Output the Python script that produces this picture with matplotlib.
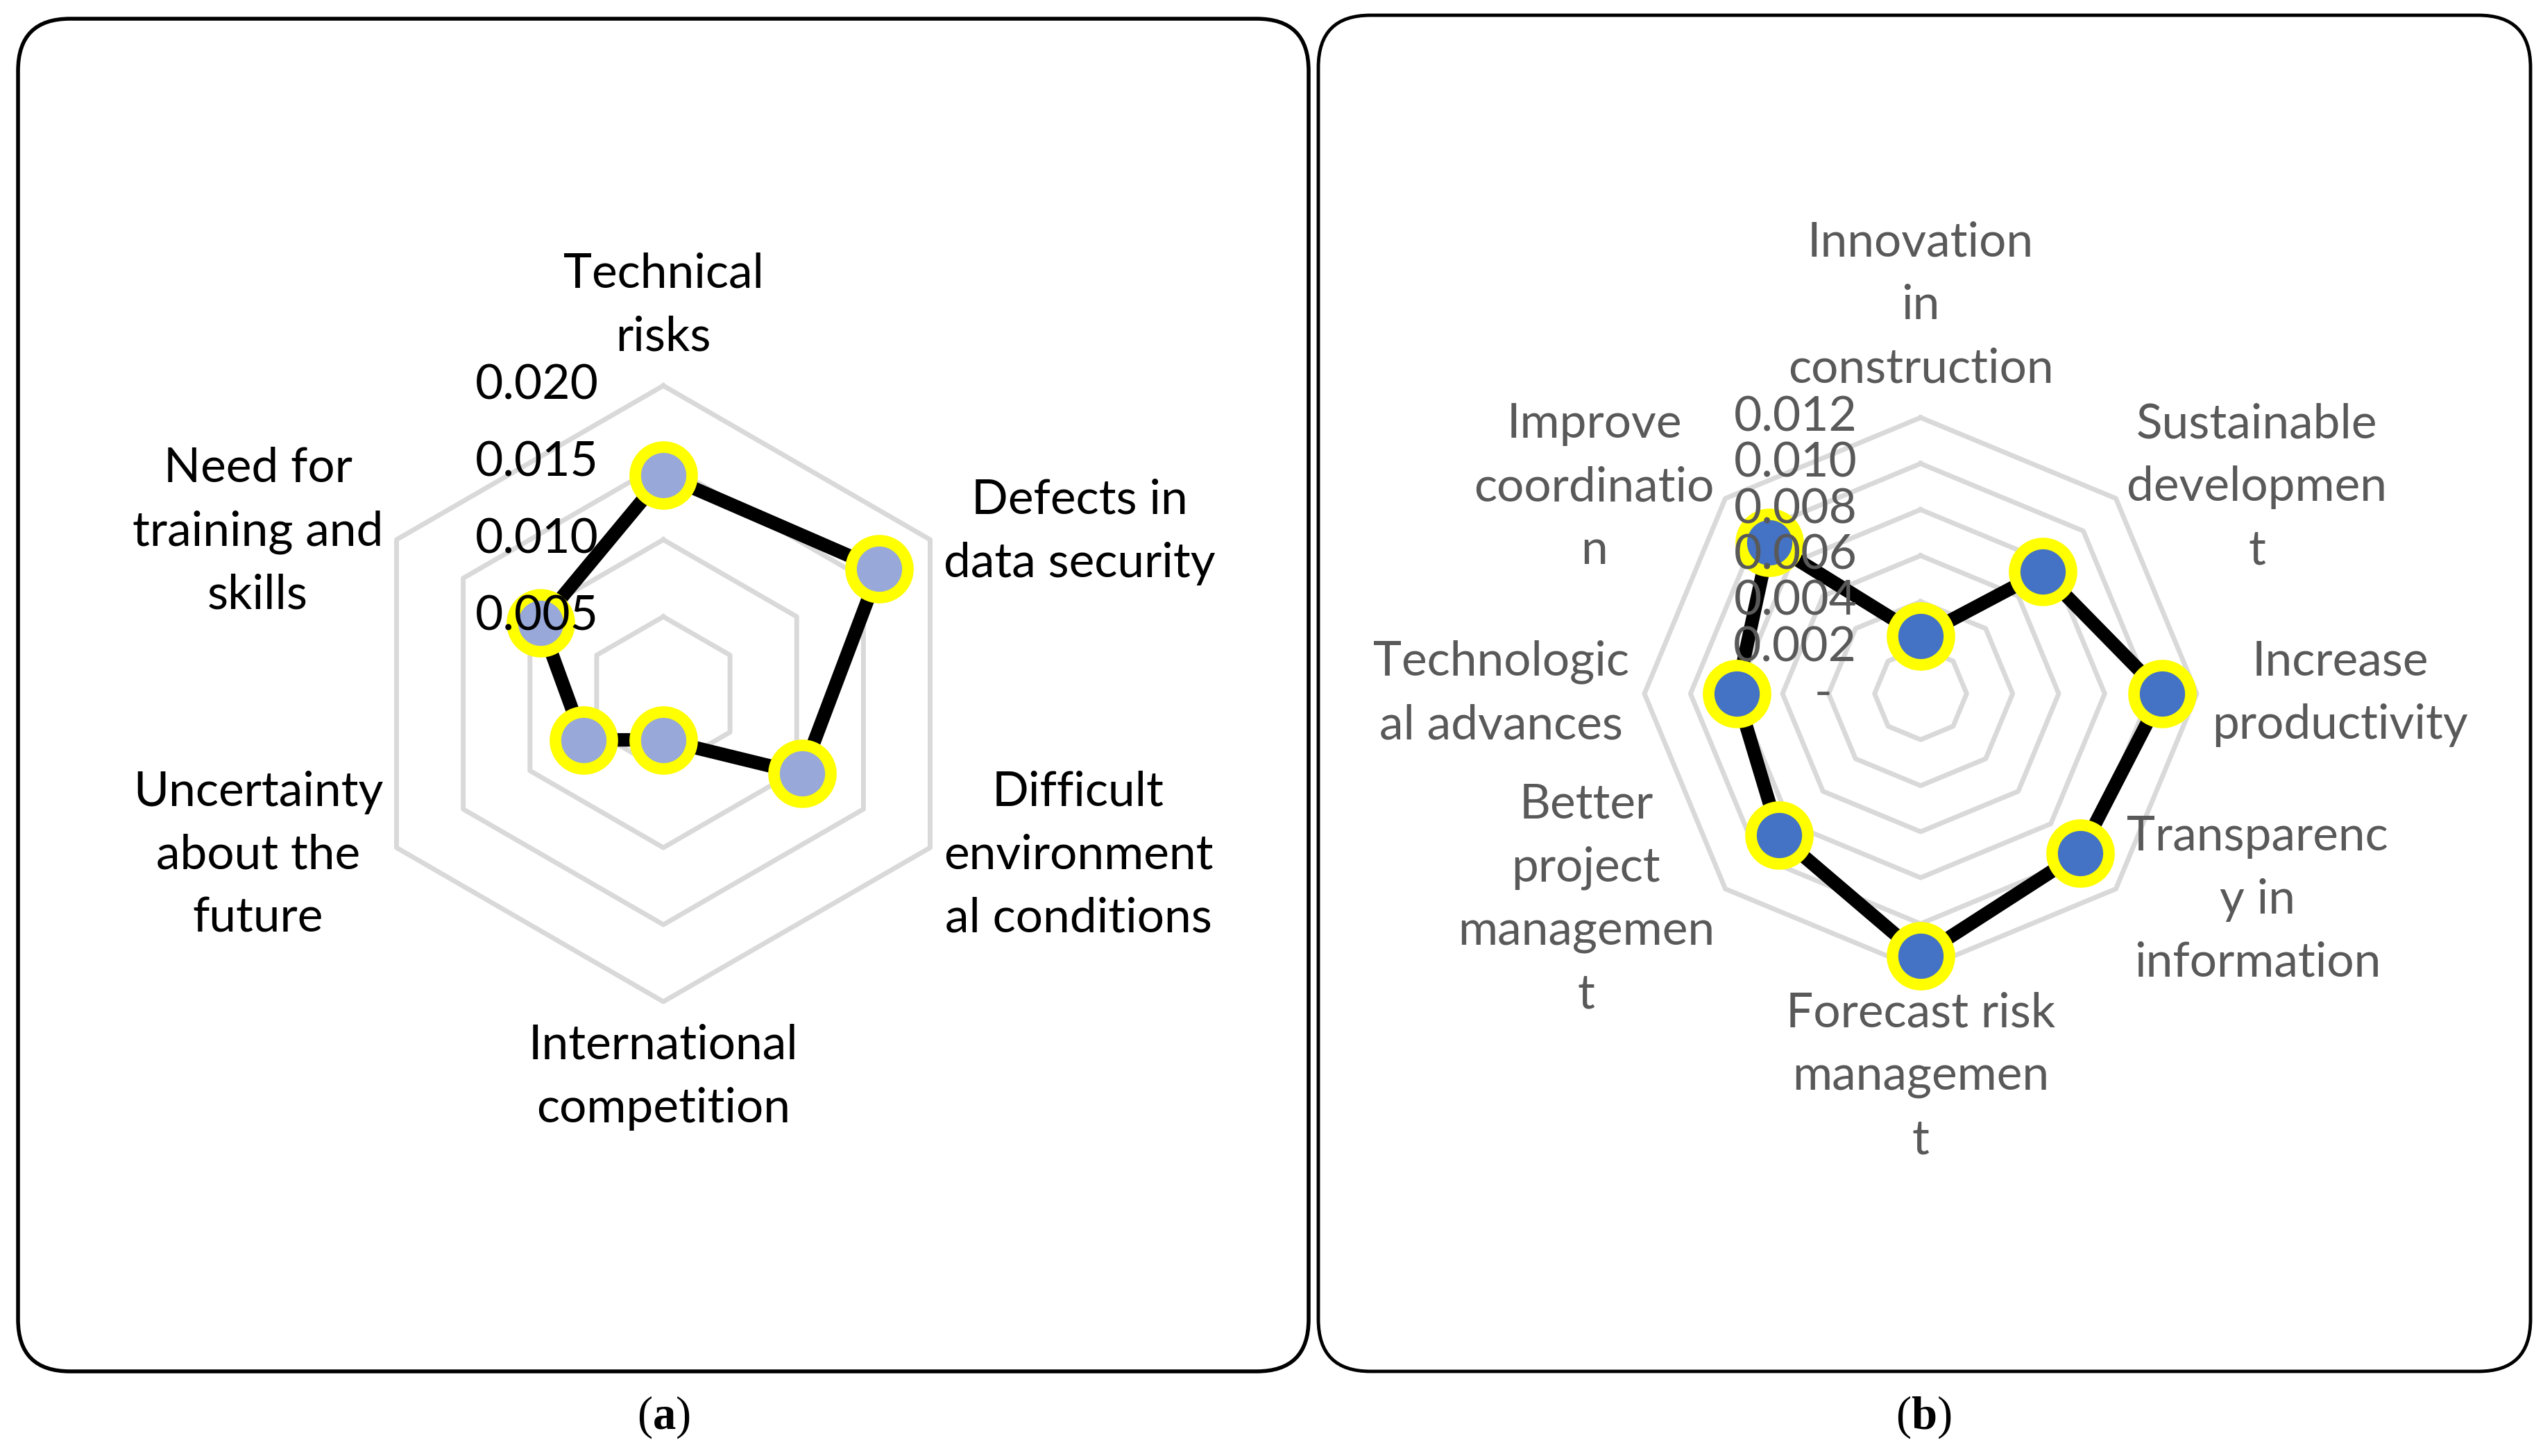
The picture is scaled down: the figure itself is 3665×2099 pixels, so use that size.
import numpy as np
import matplotlib
matplotlib.use("Agg")
import matplotlib.pyplot as plt
from matplotlib.patches import FancyBboxPatch

plt.rcParams['font.family'] = ['Lato', 'DejaVu Sans']
plt.rcParams['mathtext.fontset'] = 'custom'
plt.rcParams['mathtext.rm'] = 'Liberation Serif'
plt.rcParams['mathtext.bf'] = 'Liberation Serif:bold'

# (a) challenges
cats_a = ["Technical\nrisks", "Defects in\ndata security", "Difficult\nenvironment\nal conditions",
          "International\ncompetition", "Uncertainty\nabout the\nfuture", "Need for\ntraining and\nskills"]
vals_a = [0.0142, 0.0162, 0.0104, 0.0030, 0.0060, 0.0092]
ticks_a = [0.005, 0.010, 0.015, 0.020]
ticklabels_a = ["0.005", "0.010", "0.015", "0.020"]

# (b) benefits
cats_b = ["Innovation\nin\nconstruction", "Sustainable\ndevelopmen\nt", "Increase\nproductivity",
          "Transparenc\ny in\ninformation", "Forecast risk\nmanagemen\nt", "Better\nproject\nmanagemen\nt",
          "Technologic\nal advances", "Improve\ncoordinatio\nn"]
vals_b = [0.0025, 0.0075, 0.0105, 0.0098, 0.0114, 0.0087, 0.0080, 0.0093]
ticks_b = [0.0, 0.002, 0.004, 0.006, 0.008, 0.010, 0.012]
ticklabels_b = ["-  ", "0.002", "0.004", "0.006", "0.008", "0.010", "0.012"]

W, H = 3666, 2099
fig = plt.figure(figsize=(W / 100, H / 100), dpi=100)

# background frames
bg = fig.add_axes([0, 0, 1, 1], zorder=-5)
bg.set_xlim(0, W)
bg.set_ylim(H, 0)
bg.axis('off')
bg.add_patch(FancyBboxPatch((26, 27), 1860, 1950, boxstyle="round,pad=0,rounding_size=75",
                            fc='white', ec='black', lw=4))
bg.add_patch(FancyBboxPatch((1900, 22), 1747, 1955, boxstyle="round,pad=0,rounding_size=75",
                            fc='white', ec='black', lw=3.5))
bg.text(956, 2043, r"($\mathbf{a}$)", ha='center', va='center', fontsize=48, family='Liberation Serif')
bg.text(2772, 2043, r"($\mathbf{b}$)", ha='center', va='center', fontsize=48, family='Liberation Serif')


def radar(cx, cy, R, cats, vals, ticks, ticklabels, rmax, face, txtcol, tick_off):
    ax = fig.add_axes([(cx - R) / W, (H - cy - R) / H, 2 * R / W, 2 * R / H], projection='polar')
    ax.set_theta_zero_location('N')
    ax.set_theta_direction(-1)
    ax.set_ylim(0, rmax)
    ax.set_xticks([])
    ax.set_yticks([])
    ax.grid(False)
    ax.spines['polar'].set_visible(False)
    ax.patch.set_alpha(0)

    n = len(cats)
    ang = np.linspace(0, 2 * np.pi, n, endpoint=False)
    ang_c = np.append(ang, ang[0])

    for lv in ticks:
        if lv > 0:
            ax.plot(ang_c, [lv] * (n + 1), color='#D9D9D9', lw=5, zorder=1, clip_on=False)

    v = np.append(vals, vals[0])
    ax.plot(ang_c, v, color='black', lw=14, zorder=3, clip_on=False)
    ax.plot(ang, vals, linestyle='none', marker='o', ms=59, mfc=face, mec='#FFFF00', mew=12,
            zorder=4, clip_on=False)

    for lv, s in zip(ticks, ticklabels):
        ax.annotate(s, xy=(0, lv), xytext=(-tick_off, 0), textcoords='offset points',
                    ha='right', va='center', fontsize=50, color=txtcol, zorder=6,
                    annotation_clip=False)

    pad = 16
    for a, lab in zip(ang, cats):
        sx, cy_ = np.sin(a), np.cos(a)
        if abs(sx) < 0.1:
            ha = 'center'
            if cy_ > 0:
                va, off = 'bottom', (0, 28)
            else:
                va, off = 'top', (0, -23)
        else:
            ha = 'left' if sx > 0 else 'right'
            va = 'center'
            off = (sx * pad, cy_ * pad)
        ax.annotate(lab, xy=(a, rmax), xytext=off, textcoords='offset points',
                    ha=ha, va=va, multialignment='center', fontsize=50, color=txtcol,
                    linespacing=1.55, annotation_clip=False, zorder=5)
    return ax


radar(956, 1000, 444, cats_a, vals_a, ticks_a, ticklabels_a, 0.020, '#97A8D9', 'black', 67)
radar(2768, 1000, 398, cats_b, vals_b, ticks_b, ticklabels_b, 0.012, '#4472C4', '#595959', 66)

fig.savefig("out.png", dpi=100)
